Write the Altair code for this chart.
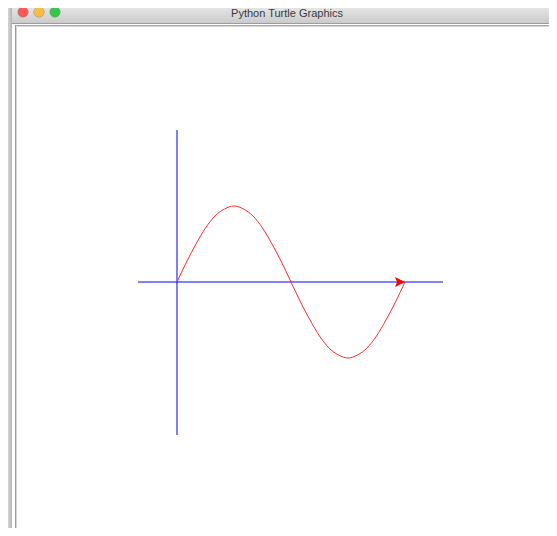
import altair as alt
import pandas as pd

# Turtle-coordinate data (pixels relative to turtle origin, y up)
curve_x = [0, 9.5, 19, 28.5, 38, 47.5, 57, 66.5, 76, 85.5, 95, 104.5, 114,
           123.5, 133, 142.5, 152, 161.5, 171, 180.5, 190, 199.5, 209, 218.5, 228]
curve_y = [0, 20, 38, 54, 66, 73, 76, 73, 66, 54, 38, 20, 0,
           -20, -38, -54, -66, -73, -76, -73, -66, -54, -38, -20, 0]
h_axis_x = [-39, 266]
v_axis_y = [-153, 152]
arrow_pos = [228, 0]
window_title = "Python Turtle Graphics"
light_colors = ["#fc5753", "#fdbc40", "#34c84a"]

W, H = 541, 520
xs = alt.Scale(domain=[-169, 372], range=[0, W], nice=False, zero=False)
ys = alt.Scale(domain=[-246, 274], range=[H, 0], nice=False, zero=False)

curve_df = pd.DataFrame({"x": curve_x, "y": curve_y, "i": range(len(curve_x))})
haxis_df = pd.DataFrame({"x": h_axis_x, "y": [0, 0]})
vaxis_df = pd.DataFrame({"x": [0, 0], "y": v_axis_y})
arrow_df = pd.DataFrame({"x": [arrow_pos[0]], "y": [arrow_pos[1]]})

X = lambda: alt.X("x:Q", scale=xs, axis=None)
Y = lambda: alt.Y("y:Q", scale=ys, axis=None)
one = pd.DataFrame({"a": [0]})

# Window chrome
shadow = alt.Chart(one).mark_rect(
    color=alt.Gradient(gradient="linear", x1=0, x2=1, y1=0, y2=0,
                       stops=[alt.GradientStop(color="#d6d6d6", offset=0),
                              alt.GradientStop(color="#b4b4b4", offset=1)])
).encode(x=alt.value(0), x2=alt.value(4), y=alt.value(0), y2=alt.value(H))

left_border1 = alt.Chart(one).mark_rule(color="#9a9a9a", strokeWidth=1).encode(
    x=alt.value(7.5), y=alt.value(17), y2=alt.value(H))
left_border2 = alt.Chart(one).mark_rule(color="#d4d4d4", strokeWidth=1).encode(
    x=alt.value(8.5), y=alt.value(19), y2=alt.value(H))

titlebar = alt.Chart(one).mark_rect(
    color=alt.Gradient(gradient="linear", x1=0, x2=0, y1=0, y2=1,
                       stops=[alt.GradientStop(color="#e4e4e4", offset=0),
                              alt.GradientStop(color="#cbcbcb", offset=1)])
).encode(x=alt.value(4), x2=alt.value(W), y=alt.value(0), y2=alt.value(15))

title_line = alt.Chart(one).mark_rule(color="#9c9c9c", strokeWidth=1).encode(
    x=alt.value(4), x2=alt.value(W), y=alt.value(15.5))
canvas_top1 = alt.Chart(one).mark_rule(color="#a8a8a8", strokeWidth=1).encode(
    x=alt.value(7.5), x2=alt.value(W), y=alt.value(17.5))
canvas_top2 = alt.Chart(one).mark_rule(color="#d4d4d4", strokeWidth=1).encode(
    x=alt.value(8.5), x2=alt.value(W), y=alt.value(18.5))

lights = [
    alt.Chart(one).mark_circle(size=110, opacity=1, color=c, stroke="#8a8a8a", strokeWidth=0.5).encode(
        x=alt.value(px), y=alt.value(4))
    for px, c in zip([15, 31, 47], light_colors)
]

title = alt.Chart(pd.DataFrame({"t": [window_title]})).mark_text(
    font="Liberation Sans", fontSize=11, color="#3a3a3a", baseline="middle", align="center"
).encode(x=alt.value(279), y=alt.value(5.5), text="t:N")

# Turtle drawing
haxis = alt.Chart(haxis_df).mark_line(color="#0000ff", strokeWidth=1).encode(x=X(), y=Y())
vaxis = alt.Chart(vaxis_df).mark_line(color="#0000ff", strokeWidth=1).encode(x=X(), y=Y())
curve = alt.Chart(curve_df).mark_line(color="#ff2a2a", strokeWidth=1, interpolate="monotone").encode(
    x=X(), y=Y(), order="i:Q")
arrow = alt.Chart(arrow_df).mark_point(
    shape="M0,0 L-2,-1 L-1.6,0 L-2,1 Z", size=100, filled=True, color="#ff0000", opacity=1,
    strokeWidth=0
).encode(x=X(), y=Y())

chart = alt.layer(
    shadow, titlebar, title_line, canvas_top1, canvas_top2, left_border1, left_border2,
    *lights, title, haxis, vaxis, curve, arrow
).properties(
    width=W, height=H, padding=0, autosize=alt.AutoSizeParams(type="none"),
    background="#ffffff"
).configure_view(stroke=None)

chart.save("out.html", embed_options={"renderer": "svg", "actions": False})
